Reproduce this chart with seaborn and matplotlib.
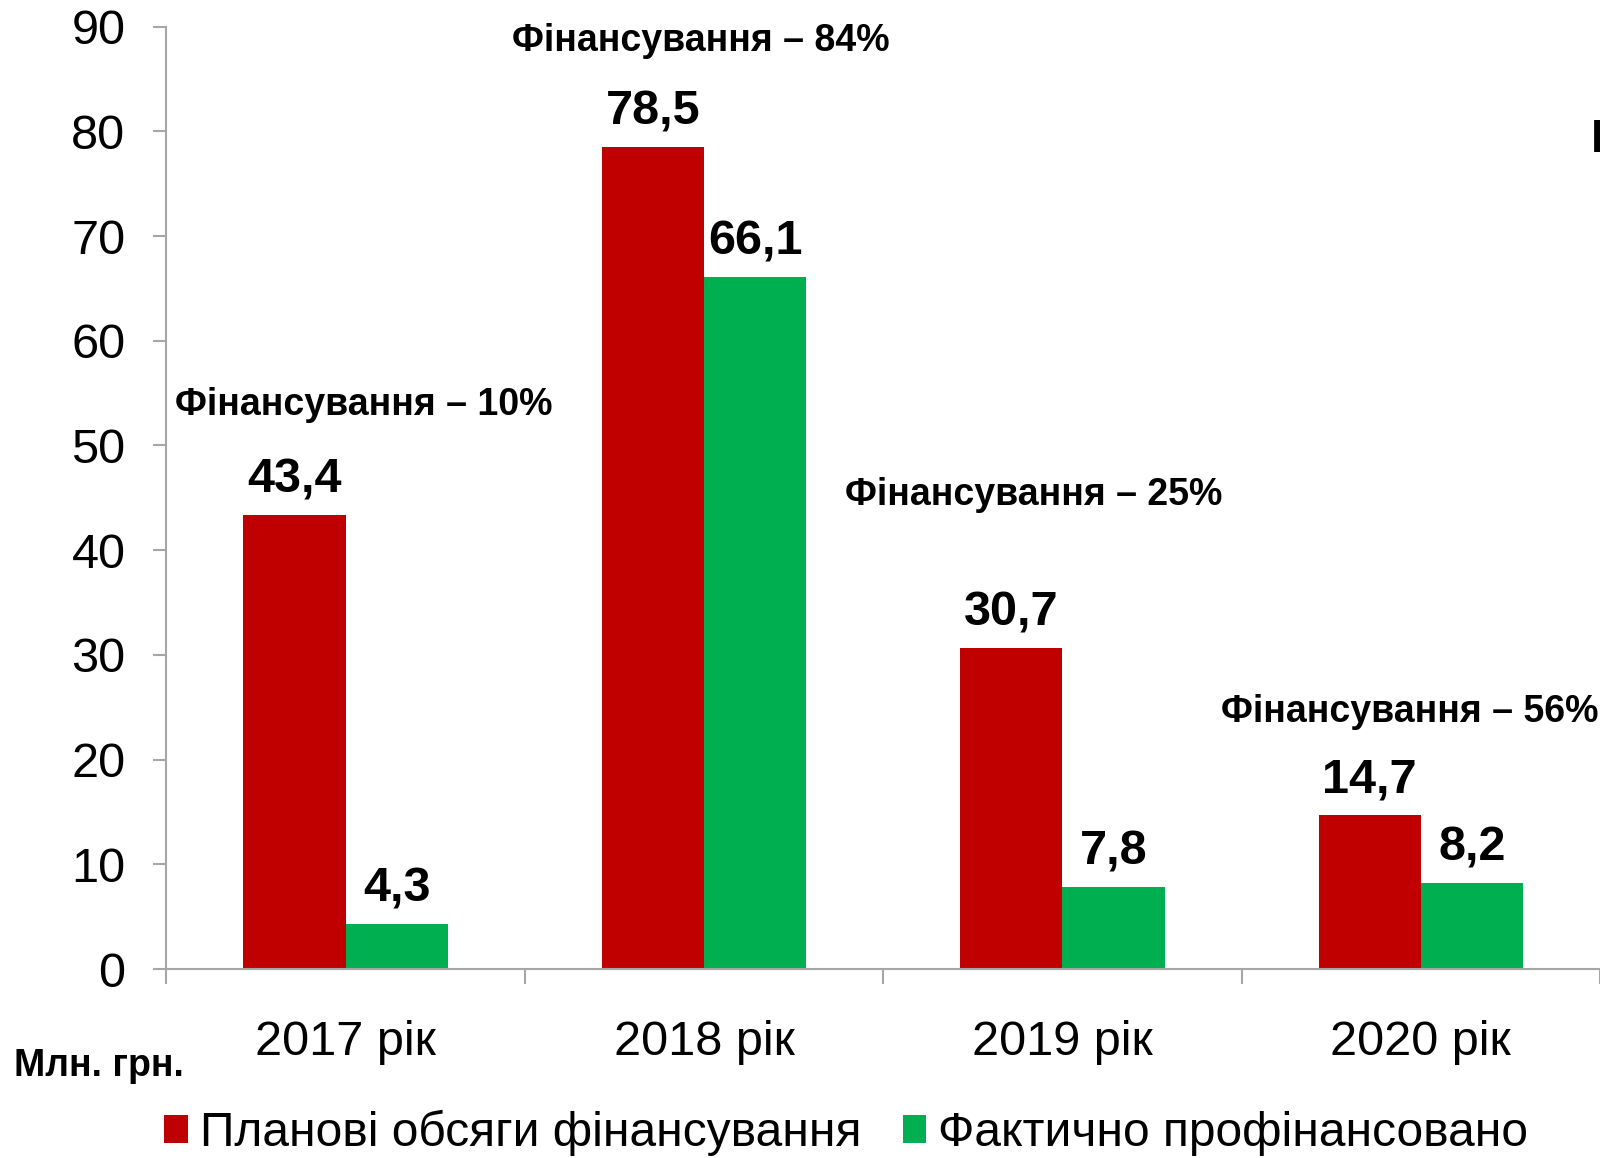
import matplotlib
matplotlib.use("Agg")
import matplotlib.pyplot as plt
from matplotlib.patches import Patch
import seaborn as sns
import pandas as pd

# chart data
years = ['2017 рік', '2018 рік', '2019 рік', '2020 рік']
planned = [43.4, 78.5, 30.7, 14.7]
actual = [4.3, 66.1, 7.8, 8.2]
shares = ['10%', '84%', '25%', '56%']
series = ['Планові обсяги фінансування', 'Фактично профінансовано']
colors = ['#C00000', '#00B050']

# where the "Фінансування" notes sit (dx from category centre, y above planned bar)
note_dx = [0.05, -0.01, -0.08, -0.03]
note_dy = [10.5, 10.1, 14.6, 9.8]

df = pd.DataFrame({
    'year': years * 2,
    'value': planned + actual,
    'series': [series[0]] * 4 + [series[1]] * 4,
})

sns.set_style('white')
plt.rcParams['font.family'] = ['Liberation Sans', 'DejaVu Sans']
plt.rcParams['text.color'] = 'black'
plt.rcParams['xtick.labelcolor'] = 'black'
plt.rcParams['ytick.labelcolor'] = 'black'

fig = plt.figure(figsize=(16, 11.58), dpi=100)
ax = fig.add_axes([0.104, 0.1632, 0.896, 0.8138])

sns.barplot(data=df, x='year', y='value', hue='series', palette=colors,
            width=0.57, gap=0, saturation=1, legend=False, ax=ax, errorbar=None,
            linewidth=0)

ax.set_ylim(0, 90)
ax.set_xlim(-0.5, 3.5)
ax.set_yticks(range(0, 91, 10))
ax.set_xlabel('')
ax.set_ylabel('')

for s in ['top', 'right']:
    ax.spines[s].set_visible(False)
for s in ['left', 'bottom']:
    ax.spines[s].set_color('#a6a6a6')
    ax.spines[s].set_linewidth(1.5)

# category boundaries get the tick marks, centres get the labels
ax.set_xticks([-0.5, 0.5, 1.5, 2.5, 3.5])
ax.set_xticklabels([])
ax.set_xticks([0, 1, 2, 3], minor=True)
ax.set_xticklabels(years, minor=True)
ax.tick_params(axis='x', which='major', direction='out', length=11, width=1.5,
               color='#a6a6a6', bottom=True)
ax.tick_params(axis='x', which='minor', length=0, pad=37, labelsize=35)
ax.tick_params(axis='y', direction='out', length=9.5, width=1.5, color='#a6a6a6',
               left=True, pad=20, labelsize=35)

for cont in ax.containers:
    ax.bar_label(cont, labels=[f'{b.get_height():.1f}'.replace('.', ',') for b in cont],
                 padding=9, fontsize=35, fontweight='bold')

for i, sh in enumerate(shares):
    ax.text(i + note_dx[i], planned[i] + note_dy[i], f'Фінансування – {sh}',
            ha='center', va='center', fontsize=27, fontweight='bold')

fig.text(14 / 1600, 1 - 1066 / 1158, 'Млн. грн.', fontsize=27, fontweight='bold',
         ha='left', va='center')
# cut-off text at the right edge of the original slide
fig.text(1591 / 1600, 1 - 140 / 1158, 'Р', fontsize=34, fontweight='bold',
         ha='left', va='center')

handles = [Patch(facecolor=c, edgecolor='none') for c in colors]
fig.legend(handles, series, loc='center', bbox_to_anchor=(0.529, 1 - 1133 / 1158),
           ncol=2, frameon=False, fontsize=34.5, handlelength=0.5, handleheight=0.5,
           handletextpad=0.25, columnspacing=0.85)

fig.savefig('out.png', dpi=100)
